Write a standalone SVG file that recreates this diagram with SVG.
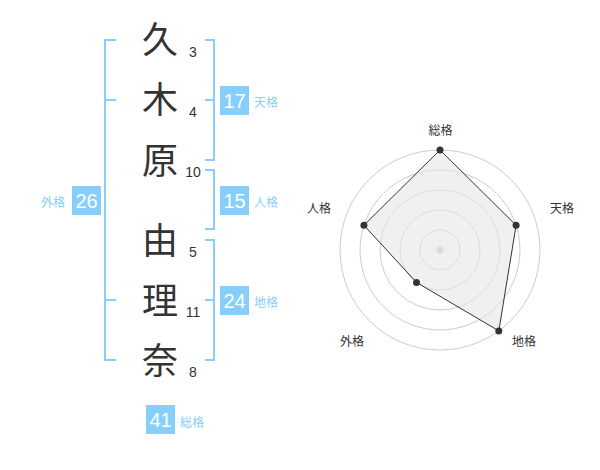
<svg xmlns="http://www.w3.org/2000/svg" width="600" height="470" viewBox="0 0 600 470">
<style>
.k{font-family:"Noto Sans CJK JP","Noto Sans CJK SC",sans-serif;font-size:36px;fill:#333;text-anchor:middle}
.n{font-family:"Liberation Sans",Arial,sans-serif;font-size:14px;fill:#333;text-anchor:middle}
.br{fill:none;stroke:#87cefa;stroke-width:2}
.box{fill:#87cefa}
.bt{font-family:"Liberation Sans",Arial,sans-serif;font-size:20px;fill:#fff;text-anchor:middle}
.lb{font-family:"Noto Sans CJK JP","Noto Sans CJK SC",sans-serif;font-size:12px;fill:#87cefa}
.rl{font-family:"Noto Sans CJK JP","Noto Sans CJK SC",sans-serif;font-size:12px;fill:#333;text-anchor:middle}
.ring{fill:none;stroke:#cccccc;stroke-width:1}
.dot{fill:#333}
</style>
<rect width="600" height="470" fill="#fff"/>
<g id="chars">
<text class="k" x="160" y="53">久</text>
<text class="k" x="160" y="113">木</text>
<text class="k" x="160" y="174">原</text>
<text class="k" x="160" y="254">由</text>
<text class="k" x="160" y="314">理</text>
<text class="k" x="160" y="374">奈</text>
</g>
<g id="strokes">
<text class="n" x="193" y="57">3</text>
<text class="n" x="193" y="117">4</text>
<text class="n" x="193" y="177">10</text>
<text class="n" x="193" y="257">5</text>
<text class="n" x="193" y="317">11</text>
<text class="n" x="193" y="377">8</text>
</g>
<g id="brackets">
<path class="br" d="M116,40 H105 V360 H116 M105,100 H116 M105,300 H116"/>
<path class="br" d="M205,40 H214 V160 H205 M205,100 H214"/>
<path class="br" d="M205,170 H214 V229 H205"/>
<path class="br" d="M205,240 H214 V360 H205 M205,300 H214"/>
</g>
<g id="tenkaku">
<rect class="box" x="220" y="86" width="29" height="29"/>
<text class="bt" x="234.5" y="107.5">17</text>
<text class="lb" x="254" y="107">天格</text>
</g>
<g id="jinkaku">
<rect class="box" x="220" y="186" width="29" height="29"/>
<text class="bt" x="234.5" y="207.5">15</text>
<text class="lb" x="254" y="207">人格</text>
</g>
<g id="chikaku">
<rect class="box" x="220" y="286" width="29" height="29"/>
<text class="bt" x="234.5" y="307.5">24</text>
<text class="lb" x="254" y="307">地格</text>
</g>
<g id="gaikaku">
<rect class="box" x="72" y="186" width="29" height="29"/>
<text class="bt" x="86.5" y="207.5">26</text>
<text class="lb" x="65" y="207" text-anchor="end">外格</text>
</g>
<g id="soukaku">
<rect class="box" x="146" y="405" width="29" height="29"/>
<text class="bt" x="160.5" y="426.5">41</text>
<text class="lb" x="180" y="427">総格</text>
</g>
<g id="radar">
<circle class="ring" cx="440" cy="250" r="20"/>
<circle class="ring" cx="440" cy="250" r="40"/>
<circle class="ring" cx="440" cy="250" r="60"/>
<circle class="ring" cx="440" cy="250" r="80"/>
<circle class="ring" cx="440" cy="250" r="100"/>
<circle cx="440" cy="250" r="3.5" fill="#c8c8c8"/>
<polygon points="440,150 516.1,225.3 498.8,330.9 416.5,282.4 363.9,225.3" fill="#e6e6e6" fill-opacity="0.6" stroke="#333" stroke-width="1"/>
<circle class="dot" cx="440" cy="150" r="3.5"/>
<circle class="dot" cx="516.1" cy="225.3" r="3.5"/>
<circle class="dot" cx="498.8" cy="330.9" r="3.5"/>
<circle class="dot" cx="416.5" cy="282.4" r="3.5"/>
<circle class="dot" cx="363.9" cy="225.3" r="3.5"/>
<text class="rl" x="440.5" y="135">総格</text>
<text class="rl" x="562" y="213">天格</text>
<text class="rl" x="524" y="346">地格</text>
<text class="rl" x="352" y="346">外格</text>
<text class="rl" x="319" y="213">人格</text>
</g>
</svg>
